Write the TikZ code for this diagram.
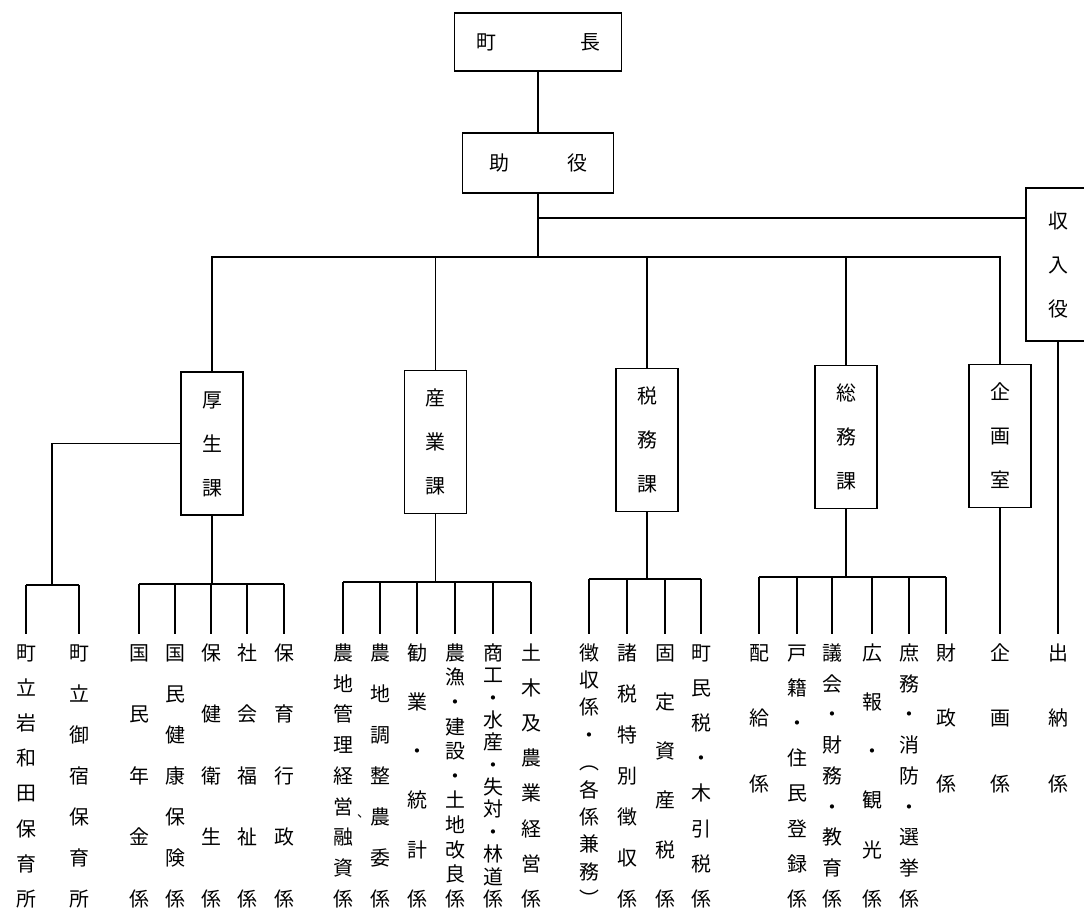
\documentclass[tikz,border=0pt]{standalone}
\usepackage{fontspec}
\newfontfamily\jp{Noto Sans CJK JP}
\usetikzlibrary{calc}
\newlength\px
\setlength\px{0.03cm}
\newcommand{\tate}[2]{\vbox to #1{\offinterlineskip\gdef\tatesep{}%
  \foreach \ch in {#2}{\tatesep\hbox to 1em{\vrule height .88em depth .12em width 0pt\hss\ch\hss}\gdef\tatesep{\vfill}}\kern0pt}}

\begin{document}
\begin{tikzpicture}[x=0.03cm, y=-0.03cm, line width=1.3pt, font=\jp\fontsize{17}{17}\selectfont,
    topbox/.style={draw, inner sep=0},
    kabox/.style={draw, inner sep=0, minimum width=62\px, minimum height=143\px},
    col/.style={anchor=north, inner xsep=0, inner ysep=8\px}]
    \useasboundingbox (0,0) rectangle (1084,911);
    \node[topbox, minimum width=167\px, minimum height=58\px] (chou) at (538,42) {\hbox to 124\px{町\hfill 長}};
    \node[topbox, minimum width=151\px, minimum height=60\px] (jo) at (538,163) {\hbox to 98\px{助\hfill 役}};
    \node[kabox, minimum width=64\px, minimum height=153\px] (shu) at (1058,264.5) {\tate{108\px}{収,入,役}};
    \node[kabox] (kosei) at (212,443.5) {\tate{108\px}{厚,生,課}};
    \node[kabox] (sangyo) at (435.5,442) {\tate{108\px}{産,業,課}};
    \node[kabox] (zeimu) at (647,440) {\tate{108\px}{税,務,課}};
    \node[kabox] (somu) at (846,437) {\tate{108\px}{総,務,課}};
    \node[kabox] (kikaku) at (1000,436) {\tate{108\px}{企,画,室}};

    \node[col] (k1) at (26,634) {\tate{266\px}{町,立,岩,和,田,保,育,所}};
    \node[col] (k2) at (79,634) {\tate{266\px}{町,立,御,宿,保,育,所}};
    \node[col] (k3) at (139,634) {\tate{266\px}{国,民,年,金,係}};
    \node[col] (k4) at (175,634) {\tate{266\px}{国,民,健,康,保,険,係}};
    \node[col] (k5) at (211,634) {\tate{266\px}{保,健,衛,生,係}};
    \node[col] (k6) at (247,634) {\tate{266\px}{社,会,福,祉,係}};
    \node[col] (k7) at (284,634) {\tate{266\px}{保,育,行,政,係}};

    \node[col] (s1) at (343,634) {\tate{266\px}{農,地,管,理,経,営,融,資,係}};
    \node[col] (s2) at (380,634) {\tate{266\px}{農,地,調,整,{\llap{\raisebox{.35em}{\fontsize{11}{11}\selectfont 、}}農},委,係}};
    \node[col] (s3) at (417,634) {\tate{266\px}{勧,業,・,統,計,係}};
    \node[col] (s4) at (455,634) {\tate{266\px}{農,漁,・,建,設,・,土,地,改,良,係}};
    \node[col] (s5) at (493,634) {\tate{266\px}{商,工,・,水,産,・,失,対,・,林,道,係}};
    \node[col] (s6) at (531,634) {\tate{266\px}{土,木,及,農,業,経,営,係}};

    \node[col] (z1) at (589,634) {\tate{266\px}{徴,収,係,・,︵,各,係,兼,務,︶}};
    \node[col] (z2) at (627,634) {\tate{266\px}{諸,税,特,別,徴,収,係}};
    \node[col] (z3) at (665,634) {\tate{266\px}{固,定,資,産,税,係}};
    \node[col] (z4) at (701,634) {\tate{266\px}{町,民,税,・,木,引,税,係}};

    \node[col] (m1) at (759,634) {\tate{151\px}{配,給,係}};
    \node[col] (m2) at (797,634) {\tate{266\px}{戸,籍,・,住,民,登,録,係}};
    \node[col] (m3) at (832,634) {\tate{266\px}{議,会,・,財,務,・,教,育,係}};
    \node[col] (m4) at (872,634) {\tate{266\px}{広,報,・,観,光,係}};
    \node[col] (m5) at (909,634) {\tate{266\px}{庶,務,・,消,防,・,選,挙,係}};
    \node[col] (m6) at (946,634) {\tate{151\px}{財,政,係}};
    \node[col] (p1) at (1000,634) {\tate{151\px}{企,画,係}};
    \node[col] (r1) at (1058,634) {\tate{151\px}{出,納,係}};

    \coordinate (bus) at (538,257);
    \coordinate (shuin) at ($(shu.north west)!.2!(shu.south west)$);
    \coordinate (kl) at (52,585);
    \coordinate (kb) at (212,584);
    \coordinate (sb) at (435.5,582);
    \coordinate (zb) at (647,579);
    \coordinate (mb) at (846,577);

    \draw (chou) -- (jo);
    \draw (jo) -- (bus);
    \draw (jo.south |- shuin) -- (shuin);
    \draw (kosei) |- (bus) -| (kikaku);
    \foreach \n in {sangyo,zeimu,somu} \draw (\n) -- (\n |- bus);

    \draw (kosei.west) -| (kl);
    \draw (k1.north |- kl) -- (k2.north |- kl);
    \foreach \n in {k1,k2} \draw (\n.north |- kl) -- (\n.north);

    \draw (kosei) -- (kb);
    \draw (k3.north |- kb) -- (k7.north |- kb);
    \foreach \n in {k3,k4,k5,k6,k7} \draw (\n.north |- kb) -- (\n.north);

    \draw (sangyo) -- (sb);
    \draw (s1.north |- sb) -- (s6.north |- sb);
    \foreach \n in {s1,s2,s3,s4,s5,s6} \draw (\n.north |- sb) -- (\n.north);

    \draw (zeimu) -- (zb);
    \draw (z1.north |- zb) -- (z4.north |- zb);
    \foreach \n in {z1,z2,z3,z4} \draw (\n.north |- zb) -- (\n.north);

    \draw (somu) -- (mb);
    \draw (m1.north |- mb) -- (m6.north |- mb);
    \foreach \n in {m1,m2,m3,m4,m5,m6} \draw (\n.north |- mb) -- (\n.north);

    \draw (kikaku) -- (p1);
    \draw (shu) -- (r1);
\end{tikzpicture}
\end{document}
